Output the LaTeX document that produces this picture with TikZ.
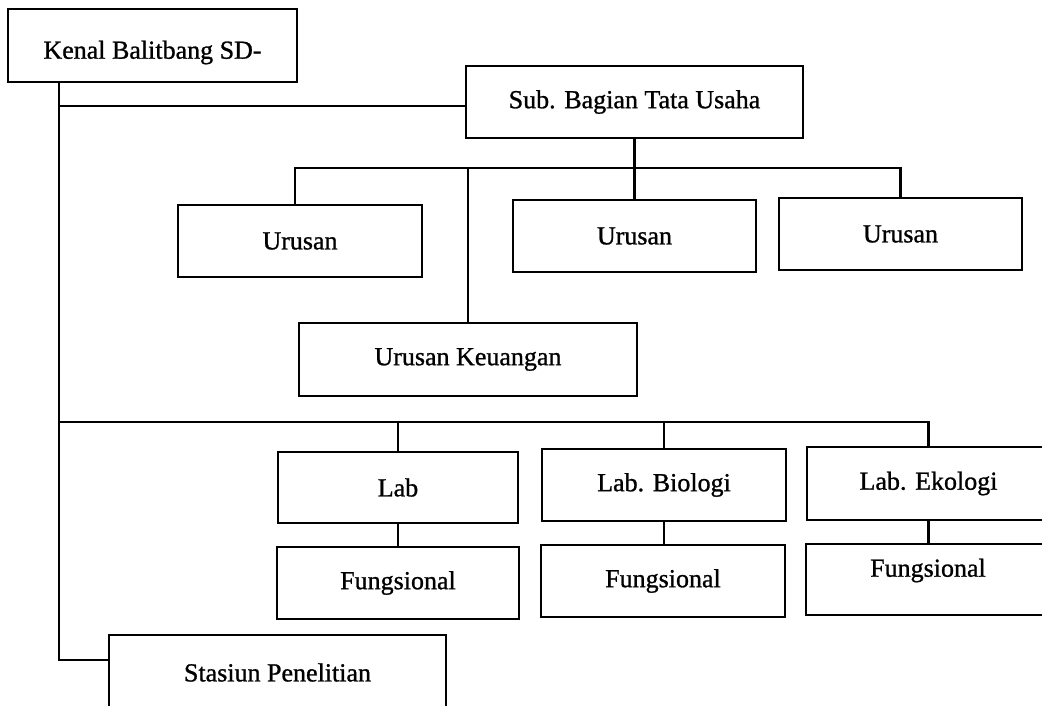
\documentclass[tikz,border=0pt]{standalone}
\usepackage{fontspec}
\setmainfont[FakeBold=1]{Liberation Serif}
\begin{document}
\begin{tikzpicture}[x=1pt,y=-1pt,
  box/.style={draw,line width=2.4pt,inner sep=0pt,font=\fontsize{26}{30}\selectfont},
  conn/.style={line width=2.4pt,line cap=rect}]
\clip (0,0) rectangle (1042,706);
\fill[white] (0,0) rectangle (1042,706);
\coordinate (trunk) at (59,0);
\coordinate (busA) at (0,168);
\coordinate (busB) at (59,422);
\node[box,minimum width=289pt,minimum height=73pt] (kenal) at (152.5,45.5) {\raisebox{-7pt}[\height][\depth]{Kenal Balitbang SD-}};
\node[box,minimum width=337pt,minimum height=72pt] (sub) at (634.5,102) {Sub. Bagian Tata Usaha};
\node[box,minimum width=244pt,minimum height=72pt] (u1) at (300,241) {Urusan};
\node[box,minimum width=243pt,minimum height=72pt] (u2) at (634.5,236) {Urusan};
\node[box,minimum width=243pt,minimum height=72pt] (u3) at (900.5,234) {Urusan};
\node[box,minimum width=338pt,minimum height=73pt] (keu) at (468,359.5) {Urusan Keuangan};
\node[box,minimum width=240pt,minimum height=71pt] (lab1) at (398,487.5) {Lab};
\node[box,minimum width=244pt,minimum height=72pt] (lab2) at (664,485) {Lab. Biologi};
\node[box,minimum width=243pt,minimum height=73pt] (lab3) at (928.5,483.5) {Lab. Ekologi};
\node[box,minimum width=242pt,minimum height=72pt] (f1) at (398,583) {Fungsional};
\node[box,minimum width=244pt,minimum height=72pt] (f2) at (663,581) {Fungsional};
\node[box,minimum width=244pt,minimum height=71pt] (f3) at (928,579.5) {\raisebox{9pt}[\height][\depth]{Fungsional}};
\node[box,minimum width=337pt,minimum height=75pt] (sta) at (277.5,672.5) {Stasiun Penelitian};
\coordinate (subin) at ([yshift=-4pt]sub.west);
\coordinate (stain) at ([yshift=12.5pt]sta.west);
\coordinate (u1in) at ([xshift=-5pt]u1.north);
\draw[conn] (kenal.south -| trunk) |- (stain);
\draw[conn] (trunk |- subin) -- (subin);
\draw[conn] (sub.south) -- (sub.south |- busA);
\draw[conn] (u1in) |- (u3.north |- busA) -- (u3.north);
\draw[conn] (u2.north) -- (u2.north |- busA);
\draw[conn] (keu.north) -- (keu.north |- busA);
\draw[conn] (busB) -- (busB -| lab3.north) -- (lab3.north);
\draw[conn] (lab1.north) -- (lab1.north |- busB);
\draw[conn] (lab2.north) -- (lab2.north |- busB);
\draw[conn] (lab1.south) -- (lab1.south |- f1.north);
\draw[conn] (lab2.south) -- (lab2.south |- f2.north);
\draw[conn] (lab3.south) -- (lab3.south |- f3.north);
\end{tikzpicture}
\end{document}
